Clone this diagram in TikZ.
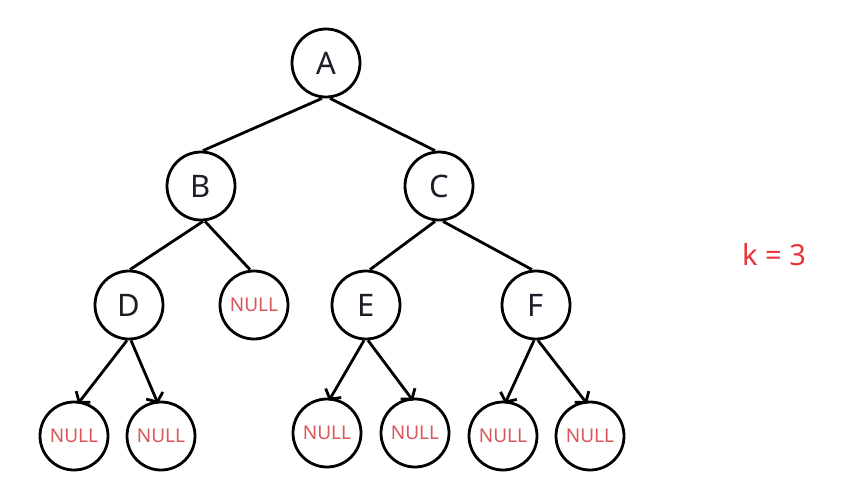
\documentclass[tikz,border=0pt]{standalone}
\usepackage{fontspec}
\setmainfont{Noto Sans}
\usetikzlibrary{arrows.meta}
\definecolor{ink}{HTML}{1E1E28}
\definecolor{nullred}{HTML}{D9565A}
\definecolor{kred}{HTML}{E8333A}
\begin{document}
\begin{tikzpicture}[x=1pt,y=-1pt,
  tnode/.style={circle,draw=black,line width=2.8pt,minimum size=68pt,inner sep=0pt,font=\fontsize{31}{33}\selectfont,text=ink},
  nnode/.style={circle,draw=black,line width=2.8pt,minimum size=68pt,inner sep=0pt,font=\fontsize{19}{21}\selectfont,text=nullred},
  edge/.style={line width=2.8pt,black},
  arr/.style={line width=2.8pt,black,-{Straight Barb[length=7pt,width=18pt,line width=2.8pt]}}]
\useasboundingbox (0,0) rectangle (864,501);
\node[tnode] (A) at (326,63) {A};
\node[tnode] (B) at (201,186) {B};
\node[tnode] (C) at (439,186) {C};
\node[tnode] (D) at (129,305) {D};
\node[nnode] (N0) at (254,305) {NULL};
\node[tnode] (E) at (366,305) {E};
\node[tnode] (F) at (536,305) {F};
\node[nnode] (N1) at (74,436) {NULL};
\node[nnode] (N2) at (161,436) {NULL};
\node[nnode] (N3) at (327,433) {NULL};
\node[nnode] (N4) at (415,433) {NULL};
\node[nnode] (N5) at (503,436) {NULL};
\node[nnode] (N6) at (590,436) {NULL};
\node[font=\fontsize{29}{31}\selectfont,text=kred] (k) at (774,255) {k = 3};
\draw[edge] ([xshift=-4pt]A.south) -- ([xshift=2pt]B.north);
\draw[edge] ([xshift=4pt]A.south) -- ([xshift=-4pt]C.north);
\draw[edge] ([xshift=2pt]B.south) -- ([xshift=1pt]D.north);
\draw[edge] ([xshift=4pt]B.south) -- ([xshift=-4pt]N0.north);
\draw[edge] ([xshift=-4pt]C.south) -- ([xshift=4pt]E.north);
\draw[edge] ([xshift=4pt]C.south) -- ([xshift=-4pt]F.north);
\draw[arr] ([xshift=-2pt]D.south) -- ([xshift=4pt,yshift=-3pt]N1.north);
\draw[arr] ([xshift=2pt]D.south) -- ([xshift=-3pt,yshift=-3pt]N2.north);
\draw[arr] ([xshift=-2pt]E.south) -- ([xshift=2pt,yshift=-3pt]N3.north);
\draw[arr] ([xshift=2pt]E.south) -- ([xshift=-2pt,yshift=-3pt]N4.north);
\draw[arr] ([xshift=-2pt]F.south) -- ([xshift=2pt,yshift=-3pt]N5.north);
\draw[arr] ([xshift=2pt]F.south) -- ([xshift=-3pt,yshift=-3pt]N6.north);
\end{tikzpicture}
\end{document}
